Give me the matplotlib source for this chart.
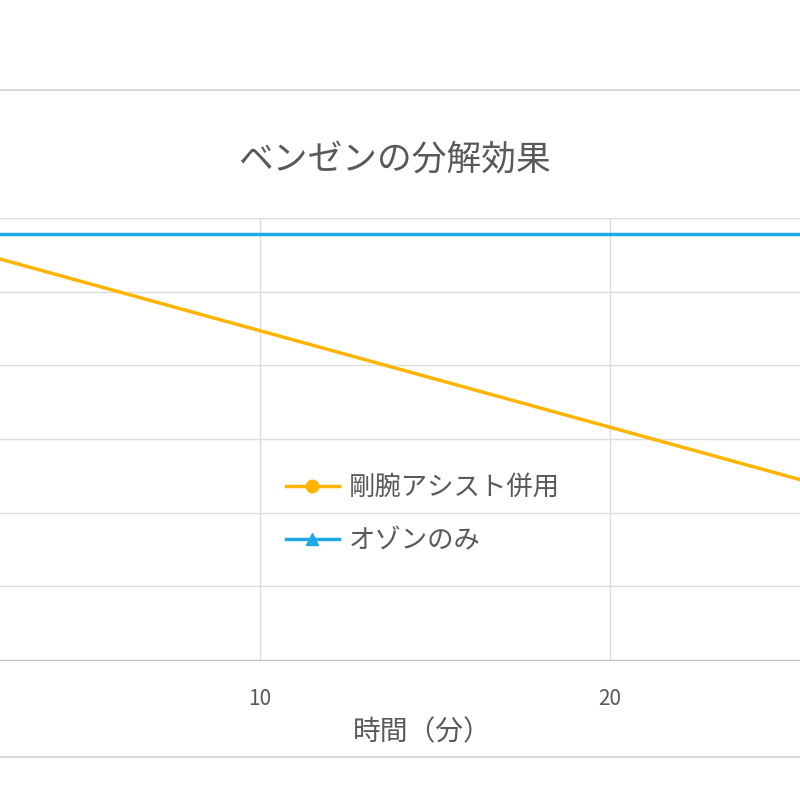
import matplotlib.pyplot as plt
from matplotlib.patches import Rectangle

plt.rcParams['font.family'] = ['Noto Sans CJK JP', 'DejaVu Sans']

# data (y in arbitrary units, axis labels are cropped)
t_assist = [0, 30]
v_assist = [0.578, 0.185]
t_ozone = [0, 30]
v_ozone = [0.578, 0.578]
xticks = [10, 20]

gray = '#595959'
fig = plt.figure(figsize=(8, 8), dpi=100)

# chart frame (left/right edges are cut off in the reference)
fig.patches.append(Rectangle((-0.05, 1 - 757 / 800), 1.1, (757 - 90) / 800,
                             transform=fig.transFigure, fill=False,
                             edgecolor='#D0D0D0', linewidth=1.2))

ax = fig.add_axes([-90 / 800, 1 - 660 / 800, 1050 / 800, 442 / 800])
ax.plot(t_assist, v_assist, color='#FFB400', linewidth=2.5, marker='o',
        markersize=9, label='剛腕アシスト併用', clip_on=False)
ax.plot(t_ozone, v_ozone, color='#1EA8E6', linewidth=2.5, marker='^',
        markersize=9, label='オゾンのみ', clip_on=False)
ax.set_xlim(0, 30)
ax.set_ylim(0, 0.6)
ax.set_xticks(xticks)
ax.set_yticks([0, 0.1, 0.2, 0.3, 0.4, 0.5, 0.6])
ax.set_yticklabels([])
ax.grid(True, color='#DCDCDC', linewidth=1)
ax.set_axisbelow(True)
for s in ['top', 'left', 'right']:
    ax.spines[s].set_visible(False)
ax.spines['bottom'].set_color('#BFBFBF')
ax.tick_params(length=0, labelsize=15, colors=gray, pad=20)
ax.set_xlabel('時間（分）', fontsize=20, color=gray, labelpad=-12)
ax.xaxis.set_label_coords((422 + 90) / 1050, -0.13)

fig.text(395 / 800, 1 - 160 / 800, 'ベンゼンの分解効果', fontsize=25,
         color=gray, ha='center', va='center')

ax.legend(loc='upper left', bbox_to_anchor=(262 / 800, 1 - 450 / 800),
          bbox_transform=fig.transFigure, frameon=False, fontsize=19,
          labelcolor=gray, handlelength=2.0, handletextpad=0.4,
          labelspacing=1.0)

fig.savefig('out.png', dpi=100)
